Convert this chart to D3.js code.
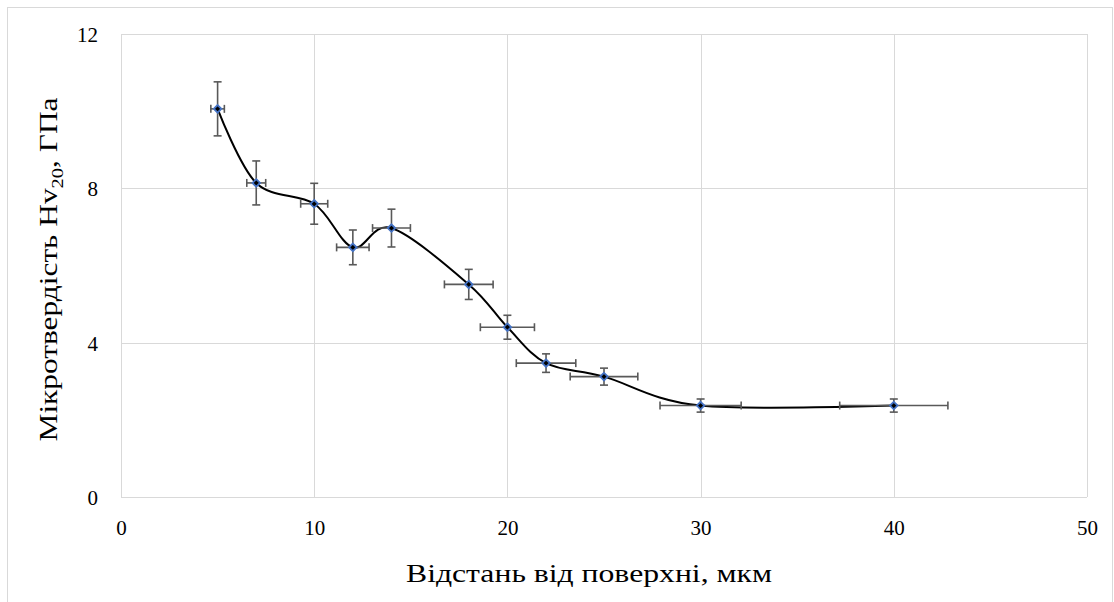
<!DOCTYPE html>
<html>
<head>
<meta charset="utf-8">
<script src="https://cdn.jsdelivr.net/npm/d3@7"></script>
<style>
  html, body { margin: 0; padding: 0; background: #ffffff; }
  svg { display: block; }
  svg text { font-family: "Liberation Serif", "Times New Roman", Tinos, "DejaVu Serif", serif; }
</style>
</head>
<body>
<svg id="chart" width="1114" height="602"></svg>
<script>
// Distance from surface (µm) and microhardness Hv20 (GPa)
const depth    = [5, 7, 10, 12, 14, 18, 20, 22, 25, 30, 40];
const hardness = [10.06, 8.14, 7.6, 6.47, 6.97, 5.51, 4.4, 3.47, 3.12, 2.37, 2.37];
// Error bar half-widths
const depthErr    = [0.35, 0.49, 0.7, 0.84, 0.98, 1.26, 1.4, 1.54, 1.75, 2.1, 2.8];
const hardnessErr = [0.7, 0.57, 0.53, 0.45, 0.49, 0.39, 0.31, 0.24, 0.22, 0.17, 0.17];

const xTicks = [0, 10, 20, 30, 40, 50];
const yTicks = [0, 4, 8, 12];

const xTitle = "Відстань від поверхні, мкм";

const svg = d3.select("#chart");
const plot = { left: 121, top: 34, right: 1087, bottom: 497 };

const font = '"Liberation Serif", "Times New Roman", Tinos, "DejaVu Serif", serif';
const gridColor = "#d9d9d9";
const errColor = "#595959";

// Outer chart frame
svg.append("rect")
  .attr("x", 7.5).attr("y", 7.5)
  .attr("width", 1105).attr("height", 620)
  .attr("fill", "none").attr("stroke", gridColor).attr("stroke-width", 1);

const x = d3.scaleLinear().domain([0, 50]).range([plot.left, plot.right]);
const y = d3.scaleLinear().domain([0, 12]).range([plot.bottom, plot.top]);

// Gridlines
const grid = svg.append("g");
grid.selectAll("line.v").data(xTicks).join("line")
  .attr("x1", d => Math.round(x(d)) + 0.5).attr("x2", d => Math.round(x(d)) + 0.5)
  .attr("y1", plot.top).attr("y2", plot.bottom)
  .attr("stroke", gridColor).attr("stroke-width", 1);
grid.selectAll("line.h").data(yTicks).join("line")
  .attr("y1", d => Math.round(y(d)) + 0.5).attr("y2", d => Math.round(y(d)) + 0.5)
  .attr("x1", plot.left).attr("x2", plot.right)
  .attr("stroke", gridColor).attr("stroke-width", 1);

// Axes (labels only; lines come from the grid)
const xAxis = d3.axisBottom(x).tickValues(xTicks).tickSize(0).tickPadding(0);
const gx = svg.append("g").attr("transform", `translate(0,${plot.bottom + 31})`).call(xAxis)
  .attr("font-family", null);
gx.select(".domain").remove();
gx.selectAll("text").style("font-family", font).attr("font-size", 21).attr("fill", "#000")
  .attr("dy", "0.35em");

const yAxis = d3.axisLeft(y).tickValues(yTicks).tickSize(0).tickPadding(0);
const gy = svg.append("g").attr("transform", `translate(${plot.left - 23},0)`).call(yAxis)
  .attr("font-family", null);
gy.select(".domain").remove();
gy.selectAll("text").style("font-family", font).attr("font-size", 21).attr("fill", "#000")
  .attr("dy", "0.35em");

// Axis titles
svg.append("text")
  .attr("x", 589).attr("y", 582)
  .attr("text-anchor", "middle")
  .attr("textLength", 366).attr("lengthAdjust", "spacingAndGlyphs")
  .style("font-family", font).attr("font-size", 26).attr("fill", "#000")
  .text(xTitle);

const yt = svg.append("text")
  .attr("transform", `translate(57,${(plot.top + plot.bottom) / 2 + 4}) rotate(-90)`)
  .attr("text-anchor", "middle")
  .attr("textLength", 344).attr("lengthAdjust", "spacingAndGlyphs")
  .style("font-family", font).attr("font-size", 26).attr("fill", "#000");
yt.append("tspan").text("Мікротвердість Hv");
yt.append("tspan").attr("dy", 6).attr("font-size", 17).text("20");
yt.append("tspan").attr("dy", -6).text(", ГПа");

const pts = depth.map((d, i) => ({ x: d, y: hardness[i], ex: depthErr[i], ey: hardnessErr[i] }));

// Smoothed curve
const line = d3.line().x(d => x(d.x)).y(d => y(d.y)).curve(d3.curveCatmullRom.alpha(0));
svg.append("path").datum(pts)
  .attr("d", line).attr("fill", "none")
  .attr("stroke", "#000").attr("stroke-width", 2);

// Error bars
const cap = 4;
const eb = svg.append("g").attr("stroke", errColor).attr("stroke-width", 1.6).attr("fill", "none");
pts.forEach(p => {
  const cx = x(p.x), cy = y(p.y);
  const x0 = x(p.x - p.ex), x1 = x(p.x + p.ex);
  const y0 = y(p.y - p.ey), y1 = y(p.y + p.ey);
  eb.append("line").attr("x1", x0).attr("x2", x1).attr("y1", cy).attr("y2", cy);
  eb.append("line").attr("x1", x0).attr("x2", x0).attr("y1", cy - cap).attr("y2", cy + cap);
  eb.append("line").attr("x1", x1).attr("x2", x1).attr("y1", cy - cap).attr("y2", cy + cap);
  eb.append("line").attr("x1", cx).attr("x2", cx).attr("y1", y0).attr("y2", y1);
  eb.append("line").attr("x1", cx - cap).attr("x2", cx + cap).attr("y1", y0).attr("y2", y0);
  eb.append("line").attr("x1", cx - cap).attr("x2", cx + cap).attr("y1", y1).attr("y2", y1);
});

// Diamond markers
const diamond = d3.symbol().type(d3.symbolDiamond2).size(36);
svg.append("g").selectAll("path").data(pts).join("path")
  .attr("transform", d => `translate(${x(d.x)},${y(d.y)})`)
  .attr("d", diamond)
  .attr("fill", "#000").attr("stroke", "#4472c4").attr("stroke-width", 1.8);
</script>
</body>
</html>
